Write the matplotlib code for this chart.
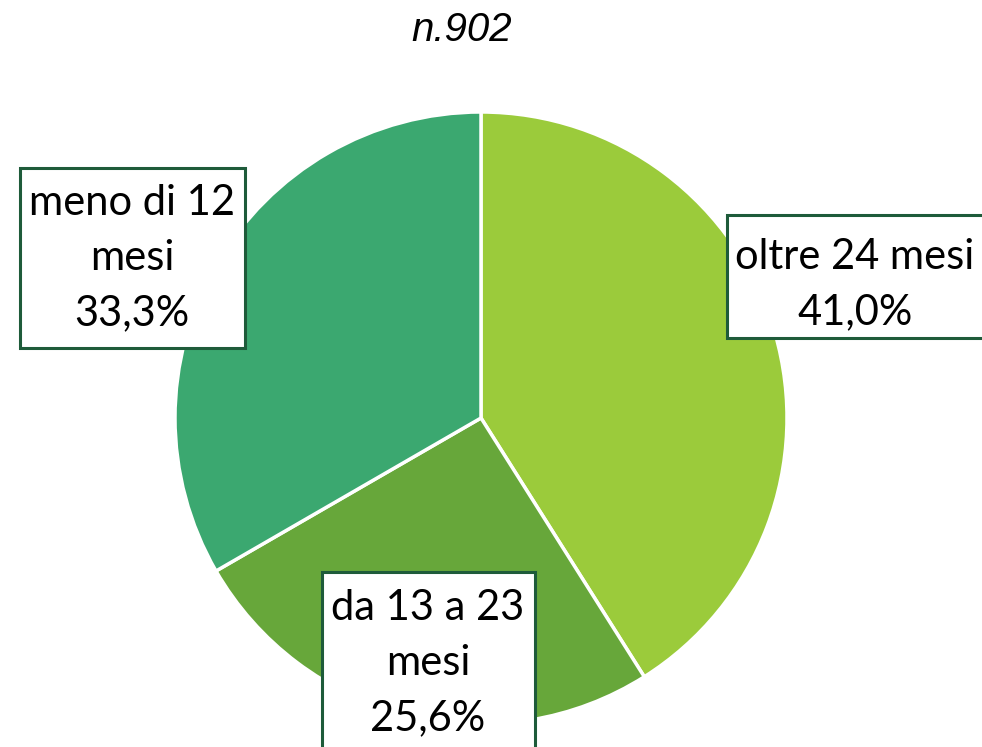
"""Pie chart: distribution by duration (n.902)."""

import matplotlib.pyplot as plt
from matplotlib.patches import Rectangle

# data
labels = ["oltre 24 mesi", "da 13 a 23\nmesi", "meno di 12\nmesi"]
values = [41.0, 25.6, 33.3]
colors = ["#9BCB3B", "#67A73A", "#3BA870"]
title = "n.902"

# layout (pixel coords, y from bottom)
W, H = 982, 747
CENTER = (481, H - 418)
RADIUS = 306
# label boxes: (x0, y0_top, width, height), text centre
boxes = [
    ((727, 215, 258, 123), (855, 285)),
    ((322, 572, 213, 190), (428, 663)),
    ((20, 168, 225, 180), (132, 258)),
]
BOX_EDGE = "#1E5B3A"

fig = plt.figure(figsize=(W / 100, H / 100), dpi=100)
ax = fig.add_axes([0, 0, 1, 1])

ax.pie(values, colors=colors, startangle=90, counterclock=False,
       center=CENTER, radius=RADIUS,
       wedgeprops=dict(edgecolor="white", linewidth=2.5))

for lab, val, (box, txt) in zip(labels, values, boxes):
    x0, y0, bw, bh = box
    ax.add_patch(Rectangle((x0, H - y0 - bh), bw, bh, facecolor="white",
                           edgecolor=BOX_EDGE, linewidth=2.2, zorder=3))
    pct = f"{val:.1f}%".replace(".", ",")
    ax.text(txt[0], H - txt[1], f"{lab}\n{pct}", ha="center", va="center",
            fontsize=30, family="Lato", linespacing=1.55, zorder=4)

ax.text(462, H - 30, title, ha="center", va="center", fontsize=29,
        style="italic", family="Liberation Sans")

ax.set_xlim(0, W)
ax.set_ylim(0, H)
ax.set_aspect("auto")
ax.axis("off")

fig.savefig("out.png", dpi=100)
